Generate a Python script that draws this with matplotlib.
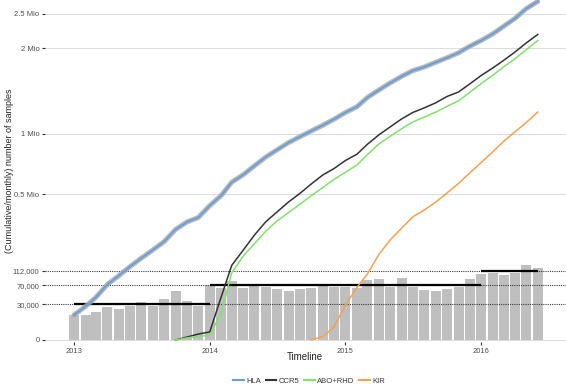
import numpy as np
import pandas as pd
import matplotlib
matplotlib.use('Agg')
import matplotlib.pyplot as plt
from matplotlib.lines import Line2D

plt.rcParams['font.family'] = ['Liberation Sans', 'DejaVu Sans']

# ---------------- data ----------------
months = pd.date_range('2013-01-01', periods=42, freq='MS')

monthly = [14700, 15000, 18400, 25100, 22100, 27700, 34500, 27700, 39500, 55700, 35700, 27700,
           71100, 64300, 82600, 62700, 68500, 66800, 61900, 57100, 60400, 63500, 72900, 65200,
           66800, 62800, 85500, 87400, 66800, 90300, 66800, 58700, 57100, 60400, 66800, 88300,
           102400, 104500, 98300, 106500, 132200, 120700]

hla = [14700, 26400, 42800, 72600, 96500, 126900, 157200, 190300, 228400, 286900, 327200, 352000,
       424000, 490600, 584400, 641300, 712200, 786900, 849100, 915600, 971100, 1026400, 1083100, 1144500,
       1216100, 1278900, 1381800, 1468600, 1551900, 1632700, 1704100, 1751200, 1812000, 1871200, 1938100, 2026800,
       2107700, 2201600, 2310800, 2430200, 2579100, 2692300]

nan = np.nan
ccr5 = [nan, nan, nan, nan, nan, nan, nan, nan, nan, 0, 200, 800,
        1500, 43900, 130400, 189500, 258000, 328900, 385000, 447500, 505600, 571800, 639700, 690000,
        757000, 811000, 900000, 989000, 1066000, 1148000, 1216000, 1266000, 1322000, 1393000, 1445000, 1540000,
        1644000, 1738000, 1835600, 1949000, 2072600, 2193000]

abo_rhd = [nan, nan, nan, nan, nan, nan, nan, nan, nan, 0, 100, 300,
           500, 17400, 105500, 165400, 217500, 278600, 332700, 381400, 434000, 489300, 545700, 605300,
           660800, 719600, 807700, 902700, 975000, 1048000, 1116600, 1167400, 1220400, 1282200, 1343300, 1439300,
           1544700, 1646300, 1750000, 1858000, 1978800, 2107600]

kir = [nan] * 21 + [0, 260, 4000, 28800, 65000, 102400, 171800, 235000, 293700, 356100, 397100,
                    446800, 507700, 575500, 655300, 740300, 831300, 926700, 1018500, 1110500, 1220400]

# yearly average segments
seg_start = ['2013-01-01', '2014-01-01', '2016-01-01']
seg_end = ['2014-01-01', '2016-01-01', '2016-06-01']
seg_value = [30000, 70000, 112000]

y_breaks = [0, 30000, 70000, 112000, 500000, 1000000, 2000000, 2500000]
y_labels = ['0', '30,000', '70,000', '112,000', '0.5 Mio', '1 Mio', '2 Mio', '2.5 Mio']
x_breaks = ['2013-01-01', '2014-01-01', '2015-01-01', '2016-01-01']
x_labels = ['2013', '2014', '2015', '2016']

series_names = ['HLA', 'CCR5', 'ABO+RHD', 'KIR']
series_colors = ['#6c9fd6', '#333333', '#82e06c', '#f5a052']

# ---------------- plot ----------------
fig = plt.figure(figsize=(5.66, 3.85), dpi=100)
ax = fig.add_axes([45 / 566, 1 - 342 / 385, 521 / 566, 342 / 385])

fwd = lambda v: np.sign(v) * np.sqrt(np.abs(v))
inv = lambda s: np.sign(s) * s ** 2
ax.set_yscale('function', functions=(fwd, inv))

# light grid lines
for v in [0, 500000, 1000000, 2000000, 2500000]:
    ax.axhline(v, color='#dcdcdc', lw=0.8, zorder=0)

ax.bar(months, monthly, width=27, color='#bfbfbf', zorder=1)

# dotted reference lines
for v in [30000, 70000, 112000]:
    ax.axhline(v, color='#3a3a3a', lw=0.8, ls=(0, (1, 1)), zorder=2)

for s, e, v in zip(seg_start, seg_end, seg_value):
    ax.plot([pd.Timestamp(s), pd.Timestamp(e)], [v, v], color='black', lw=1.6,
            solid_capstyle='butt', zorder=3)

ax.plot(months, hla, color='#a8a8a8', lw=3.6, alpha=0.8, zorder=4, solid_capstyle='round')
ax.plot(months, hla, color=series_colors[0], lw=1.5, zorder=5)
ax.plot(months, ccr5, color=series_colors[1], lw=1.1, zorder=5)
ax.plot(months, abo_rhd, color=series_colors[2], lw=1.1, zorder=6)
ax.plot(months, kir, color=series_colors[3], lw=1.1, zorder=6)

ax.set_ylim(-100, 2.716e6)
ax.set_xlim(pd.Timestamp('2012-10-15'), pd.Timestamp('2016-08-16'))

ax.set_yticks(y_breaks)
ax.set_yticklabels(y_labels)
ax.set_xticks([pd.Timestamp(d) for d in x_breaks])
ax.set_xticklabels(x_labels)
ax.minorticks_off()
for sp in ax.spines.values():
    sp.set_visible(False)
ax.tick_params(length=2.5, width=0.8, color='#333333', labelsize=5.5,
               labelcolor='#4d4d4d', pad=1.5)

fig.text(305 / 566, 1 - 357 / 385, 'Timeline', ha='center', va='center', fontsize=7, color='#222222')
fig.text(10 / 566, 1 - 171 / 385, '(Cumulative/monthly) number of samples', rotation=90,
         ha='center', va='center', fontsize=6.5, color='#222222')

handles = [Line2D([0], [0], color=c, lw=1.5) for c in series_colors]
fig.legend(handles, series_names, loc='center', bbox_to_anchor=(309 / 566, 1 - 381 / 385),
           ncol=4, frameon=False, fontsize=5.5, handlelength=1.4, handletextpad=0.3,
           columnspacing=0.6, labelcolor='#333333')

fig.savefig('out.png', dpi=100)
